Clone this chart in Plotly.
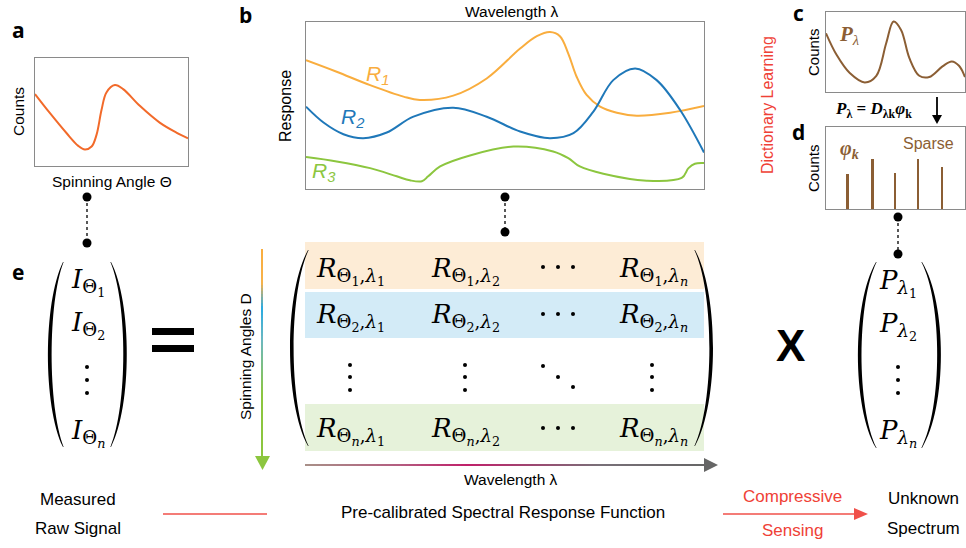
import plotly.graph_objects as go

W, H = 966, 548

# ---------------- data ----------------
# panel a: measured raw signal vs spinning angle (fractions of box)
a_angle = [0.000, 0.098, 0.207, 0.283, 0.326, 0.370, 0.402, 0.435, 0.467, 0.522, 0.576, 0.685, 0.815, 0.924, 1.000]
a_counts = [0.666, 0.489, 0.303, 0.186, 0.152, 0.180, 0.288, 0.520, 0.681, 0.749, 0.712, 0.557, 0.402, 0.310, 0.257]

# panel b: spectral responses
r1_wl = [0, 0.077, 0.161, 0.245, 0.286, 0.370, 0.454, 0.538, 0.580, 0.613, 0.638, 0.659, 0.680, 0.705, 0.739, 0.781, 0.831, 0.915, 1.0]
r1_val = [0.771, 0.702, 0.622, 0.553, 0.533, 0.559, 0.662, 0.841, 0.915, 0.940, 0.915, 0.811, 0.672, 0.563, 0.493, 0.457, 0.439, 0.457, 0.497]
r2_wl = [0, 0.044, 0.094, 0.144, 0.203, 0.270, 0.370, 0.454, 0.538, 0.613, 0.672, 0.722, 0.772, 0.827, 0.881, 0.940, 1.0]
r2_val = [0.493, 0.398, 0.328, 0.304, 0.338, 0.433, 0.487, 0.433, 0.344, 0.304, 0.334, 0.463, 0.652, 0.722, 0.652, 0.473, 0.219]
r3_wl = [0, 0.077, 0.161, 0.228, 0.261, 0.291, 0.307, 0.337, 0.412, 0.521, 0.621, 0.659, 0.688, 0.747, 0.856, 0.944, 0.961, 0.977, 1.0]
r3_val = [0.191, 0.165, 0.125, 0.076, 0.052, 0.046, 0.076, 0.135, 0.201, 0.254, 0.225, 0.185, 0.135, 0.091, 0.050, 0.066, 0.125, 0.151, 0.155]

# panel c: unknown spectrum
c_wl = [0, 0.076, 0.171, 0.279, 0.362, 0.433, 0.486, 0.540, 0.600, 0.671, 0.743, 0.838, 0.905, 0.957, 1.0]
c_counts = [0.734, 0.465, 0.237, 0.120, 0.203, 0.610, 0.880, 0.776, 0.423, 0.203, 0.187, 0.320, 0.382, 0.328, 0.187]

# panel d: sparse coefficients
d_pos = [0.157, 0.336, 0.500, 0.664, 0.836]
d_val = [0.427, 0.610, 0.439, 0.610, 0.512]

# ---------------- style ----------------
ORANGE_A = "#f26a2a"
C_R1 = "#f9ad3e"
C_R2 = "#1f78b9"
C_R3 = "#8cc63f"
BROWN = "#8b5e34"
RED = "#ef4136"
BOX = "#8a8a8a"
SANS = "Liberation Sans, Arial, sans-serif"
SERIF = "Liberation Serif, DejaVu Serif, serif"
MATH = "DejaVu Serif, serif"
BOLDF = "Open Sans, Liberation Sans, sans-serif"

fig = go.Figure()
shapes = []
annos = []


def T(x, y, text, size=15.5, color="black", family=SANS, angle=0, xa="center", ya="middle"):
    annos.append(dict(x=x, y=y, xref="x", yref="y", text=text, showarrow=False,
                      font=dict(size=size, color=color, family=family), textangle=angle,
                      xanchor=xa, yanchor=ya))


def line(x0, y0, x1, y1, color="black", width=1.5, dash=None, layer="above"):
    ln = dict(color=color, width=width)
    if dash:
        ln["dash"] = dash
    shapes.append(dict(type="line", xref="x", yref="y", x0=x0, y0=y0, x1=x1, y1=y1, line=ln, layer=layer))


def path(p, fill="black", layer="above"):
    shapes.append(dict(type="path", xref="x", yref="y", path=p, fillcolor=fill,
                       line=dict(width=0), layer=layer))


def rect(x0, y0, x1, y1, fill, layer="below"):
    shapes.append(dict(type="rect", xref="x", yref="y", x0=x0, y0=y0, x1=x1, y1=y1,
                       fillcolor=fill, line=dict(width=0), layer=layer))


def paren(x_end, x_mid, y0, y1, t=3.6):
    s = 1 if x_end > x_mid else -1
    h = y1 - y0
    c = (x_mid - 0.25 * x_end) / 0.75
    xi_end = x_end + s * 0.6
    ci = (x_mid + s * t - 0.25 * xi_end) / 0.75
    p = (f"M {x_end},{y0} C {c},{y0 + 0.22 * h} {c},{y1 - 0.22 * h} {x_end},{y1} "
         f"L {xi_end},{y1} C {ci},{y1 - 0.22 * h} {ci},{y0 + 0.22 * h} {xi_end},{y0} Z")
    path(p)


def hexc(c):
    c = c.lstrip("#")
    return [int(c[i:i + 2], 16) for i in (0, 2, 4)]


def blend(stops, v):
    for (p0, c0), (p1, c1) in zip(stops[:-1], stops[1:]):
        if p0 <= v <= p1:
            f = (v - p0) / (p1 - p0) if p1 > p0 else 0
            a, b = hexc(c0), hexc(c1)
            return "rgb(%d,%d,%d)" % tuple(round(a[i] + (b[i] - a[i]) * f) for i in range(3))
    return stops[-1][1]


# ---------------- panels ----------------
def panel(n, x0, x1, y0, y1):
    ax = dict(domain=[x0 / W, x1 / W], range=[0, 1], showline=True, mirror=True, linecolor=BOX,
              linewidth=1.2, showticklabels=False, ticks="", showgrid=False, zeroline=False,
              anchor="y%d" % n, fixedrange=True)
    ay = dict(domain=[1 - y1 / H, 1 - y0 / H], range=[0, 1], showline=True, mirror=True, linecolor=BOX,
              linewidth=1.2, showticklabels=False, ticks="", showgrid=False, zeroline=False,
              anchor="x%d" % n, fixedrange=True)
    return ax, ay


axes = {}
for n, box in [(2, (35, 188, 58, 166)), (3, (306, 704, 22, 189)), (4, (826, 965, 12, 92)), (5, (826, 965, 127, 209))]:
    ax, ay = panel(n, *box)
    axes["xaxis%d" % n] = ax
    axes["yaxis%d" % n] = ay

def curve(x, y, color, xa, ya, w=2):
    fig.add_trace(go.Scatter(x=x, y=y, mode="lines", line=dict(color=color, width=w, shape="spline", smoothing=1.0),
                             xaxis=xa, yaxis=ya, hoverinfo="skip", showlegend=False))

curve(a_angle, a_counts, ORANGE_A, "x2", "y2")
curve(r1_wl, r1_val, C_R1, "x3", "y3")
curve(r2_wl, r2_val, C_R2, "x3", "y3")
curve(r3_wl, r3_val, C_R3, "x3", "y3")
curve(c_wl, c_counts, BROWN, "x4", "y4")
fig.add_trace(go.Bar(x=d_pos, y=d_val, width=0.014, marker=dict(color=BROWN, line=dict(width=0)),
                     xaxis="x5", yaxis="y5", hoverinfo="skip", showlegend=False))

# panel labels
T(18, 30, "<b>a</b>", 21, family=BOLDF)
T(245, 15, "<b>b</b>", 21, family=BOLDF)
T(798, 13, "<b>c</b>", 21, family=BOLDF)
T(798, 132, "<b>d</b>", 21, family=BOLDF)
T(18, 272, "<b>e</b>", 21, family=BOLDF)

# axis texts
T(18, 112, "Counts", 15.5, angle=-90)
T(112, 181, "Spinning Angle Θ", 15.5)
T(512, 11, "Wavelength λ", 15.5)
T(285, 106, "Response", 16, angle=-90)
T(813, 52, "Counts", 15, angle=-90)
T(813, 168, "Counts", 15, angle=-90)
T(767, 105, "Dictionary Learning", 16, color=RED, angle=-90)
T(377, 75, "<i>R<sub>1</sub></i>", 21, color=C_R1)
T(352, 118, "<i>R<sub>2</sub></i>", 21, color=C_R2)
T(324, 172, "<i>R<sub>3</sub></i>", 21, color=C_R3)
T(849, 35, "<b><i>P</i></b><sub><i>λ</i></sub>", 21, color=BROWN, family=SERIF)
T(849, 149, "<b><i>φ</i></b><sub><b><i>k</i></b></sub>", 20, color=BROWN, family=SERIF)
T(928, 143, "Sparse", 16, color=BROWN)
T(873, 110, "<b><i>P</i><sub>λ</sub> = <i>D</i><sub>λk</sub><i>φ</i><sub>k</sub></b>", 17, family=SERIF)

# arrow c -> d
line(937, 97, 937, 116, width=1.8)
path("M 932,115 L 942,115 L 937,124 Z")

# ---------------- equation (panel e) ----------------
# connectors
conn = [(87, 197, 243), (505, 197, 232), (898, 217, 254)]
cx, cy = [], []
for x, y0, y1 in conn:
    line(x, y0, x, y1, width=1.3, dash="dot")
    cx += [x, x]
    cy += [y0, y1]
fig.add_trace(go.Scatter(x=cx, y=cy, mode="markers", marker=dict(size=9, color="black"),
                         xaxis="x", yaxis="y", hoverinfo="skip", showlegend=False))

# colored row bands
rect(305, 242, 704, 289, "#fdecd6")
rect(305, 292, 704, 338, "#d3ebf7")
rect(305, 404, 704, 451, "#e6f2da")

# parentheses
paren(63, 48, 262, 447)
paren(111, 127, 262, 447)
paren(308, 290, 250, 446)
paren(695, 713, 250, 446)
paren(876, 858, 262, 448)
paren(922, 941, 262, 448)

# equals sign
rect(152, 328, 194, 335, "black", layer="above")
rect(152, 345, 194, 352, "black", layer="above")

# multiplication X
T(790, 345, "<b>X</b>", 44, family=SANS)

MS = 26
def ent(base, s1, s2=None):
    if s2 is None:
        return f"<i>{base}</i><sub>{s1}</sub>"
    return f"<i>{base}</i><sub>{s1},{s2}</sub>"

th = ["Θ<sub>1</sub>", "Θ<sub>2</sub>", "Θ<sub><i>n</i></sub>"]
la = ["<i>λ</i><sub>1</sub>", "<i>λ</i><sub>2</sub>", "<i>λ</i><sub><i>n</i></sub>"]

# left vector
for t_, y in zip(th, [282, 325, 433]):
    T(88, y, ent("I", t_), MS, family=MATH)
# right vector
for l_, y in zip(la, [283, 326, 433]):
    T(898, y, ent("P", l_), MS, family=MATH)
# matrix
cols = [350, 465, 653]
rows = [271, 317, 431]
for ri, y in enumerate(rows):
    for ci, x in zip([0, 1, 2], cols):
        T(x, y, ent("R", th[ri], la[ci]), MS, family=MATH)

# dots
dx, dy = [], []
for x in [87, 898, 350, 465, 652]:
    dx += [x, x, x]
    dy += [367, 380, 393] if x in (87, 898) else [365, 377, 390]
dx += [543, 558, 573]; dy += [366, 377, 387]
for y in [267, 314, 428]:
    dx += [543, 558, 573]; dy += [y, y, y]
fig.add_trace(go.Scatter(x=dx, y=dy, mode="markers", marker=dict(size=4, color="black"),
                         xaxis="x", yaxis="y", hoverinfo="skip", showlegend=False))

# spinning angles arrow (gradient)
sp_stops = [(249, "#f9ad3e"), (283, "#f7b24a"), (308, "#29abe2"), (340, "#6cb8c0"), (395, "#8cc63f"), (458, "#8cc63f")]
y = 249
while y < 457:
    y2 = min(y + 3, 457)
    line(262, y, 262, y2 + 0.5, color=blend(sp_stops, (y + y2) / 2), width=2)
    y = y2
path("M 255,456 L 270,456 L 262.5,470 Z", fill="#8cc63f")
T(245, 357, "Spinning Angles D", 15.5, angle=-90)

# wavelength arrow (gradient)
wl_stops = [(305, "#a89088"), (400, "#b45c80"), (467, "#c0206a"), (600, "#787078"), (706, "#666666")]
x = 305
while x < 706:
    x2 = min(x + 4, 706)
    line(x, 465, x2 + 0.5, 465, color=blend(wl_stops, (x + x2) / 2), width=2)
    x = x2
path("M 704,458 L 718,465 L 704,472 Z", fill="#666666")
T(511, 479, "Wavelength λ", 15.5)

# bottom captions
T(78, 499, "Measured", 17)
T(78, 528, "Raw Signal", 17)
line(163, 514, 267, 514, color="#f0504a", width=1.5)
T(503, 512, "Pre-calibrated Spectral Response Function", 17)
T(792, 496, "Compressive", 17, color=RED)
T(792, 530, "Sensing", 17, color=RED)
line(723, 514, 858, 514, color="#f0504a", width=1.5)
path("M 854,508 L 868,514 L 854,520 Z", fill="#f0504a")
T(923, 498, "Unknown", 17)
T(923, 528, "Spectrum", 17)

fig.update_layout(
    width=W, height=H, margin=dict(l=0, r=0, t=0, b=0),
    paper_bgcolor="white", plot_bgcolor="rgba(0,0,0,0)",
    xaxis=dict(domain=[0, 1], range=[0, W], visible=False, fixedrange=True),
    yaxis=dict(domain=[0, 1], range=[H, 0], visible=False, fixedrange=True),
    shapes=shapes, annotations=annos, showlegend=False, bargap=0,
    **axes,
)
fig.write_html("out.html", config={"displayModeBar": False},
               post_script="document.body.style.margin='0';document.body.style.padding='0';document.body.style.overflow='hidden';")
